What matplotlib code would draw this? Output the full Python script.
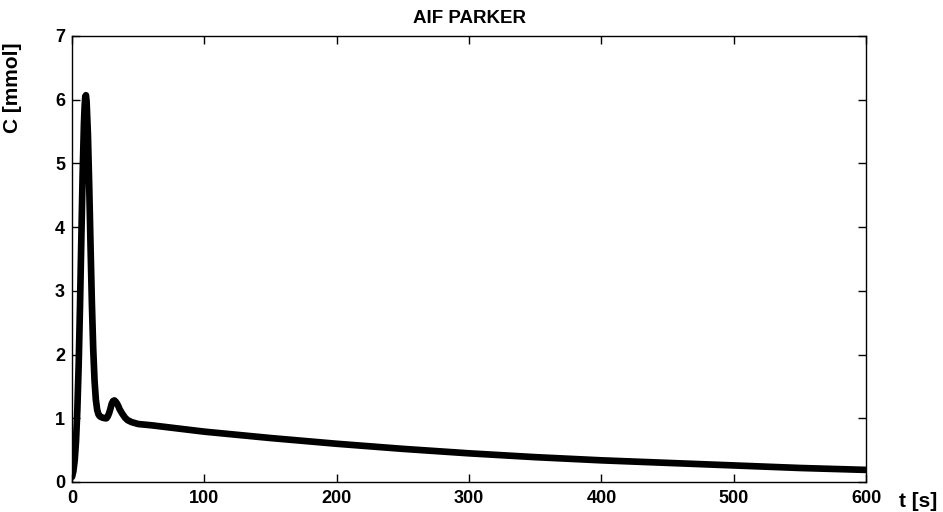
"""
Parker arterial input function, concentration over time.
"""

import matplotlib
matplotlib.use("Agg")
import matplotlib.pyplot as plt

plt.rcParams["font.family"] = ["Liberation Sans", "DejaVu Sans"]
plt.rcParams["font.weight"] = "bold"

# values
time_s = [0, 1, 2, 3, 4, 5, 6, 7, 8, 9, 9.5, 10, 10.5, 11, 12, 13, 14, 15, 16,
          17, 18, 19, 20, 21, 22, 23, 24, 25, 26, 27, 28, 29, 30, 31, 32, 33,
          34, 35, 36, 38, 40, 42, 45, 50, 60, 80, 100, 150, 200, 250, 300,
          350, 400, 450, 500, 550, 600]
conc_mmol = [0.08, 0.17, 0.34, 0.64, 1.13, 1.83, 2.75, 3.80, 4.83, 5.63, 5.89,
             6.05, 6.07, 5.97, 5.45, 4.62, 3.68, 2.80, 2.09, 1.59, 1.29, 1.13,
             1.06, 1.03, 1.02, 1.01, 1.005, 1.00, 1.00, 1.03, 1.08, 1.15, 1.23,
             1.27, 1.28, 1.26, 1.23, 1.19, 1.14, 1.07, 1.01, 0.97, 0.94, 0.91,
             0.89, 0.84, 0.79, 0.69, 0.60, 0.52, 0.45, 0.39, 0.34, 0.30, 0.26,
             0.22, 0.19]

x_ticks = [0, 100, 200, 300, 400, 500, 600]
y_ticks = [0, 1, 2, 3, 4, 5, 6, 7]

fig = plt.figure(figsize=(9.43, 5.12), dpi=100)
ax = fig.add_axes([0.0764, 0.0586, 0.8420, 0.8711])

ax.plot(time_s, conc_mmol, color="black", linewidth=4.8,
        solid_joinstyle="round", solid_capstyle="round")

ax.set_xlim(0, 600)
ax.set_ylim(0, 7)
ax.set_xticks(x_ticks)
ax.set_yticks(y_ticks)
ax.tick_params(direction="in", length=6, width=1, top=True, right=True,
               labelsize=13)
ax.tick_params(axis="x", pad=6)
ax.tick_params(axis="y", pad=5)
for lbl in ax.get_xticklabels() + ax.get_yticklabels():
    lbl.set_fontweight("bold")
for sp in ax.spines.values():
    sp.set_linewidth(1)

ax.set_title("AIF PARKER", fontsize=13.5, fontweight="bold", pad=9)
ax.set_ylabel("C [mmol]", fontsize=15, fontweight="bold")
ax.yaxis.set_label_coords(-0.063, 0.883)
ax.set_xlabel("t [s]", fontsize=15, fontweight="bold", va="center")
ax.xaxis.set_label_coords(1.0655, -0.043)

fig.savefig("out.png", dpi=100)
